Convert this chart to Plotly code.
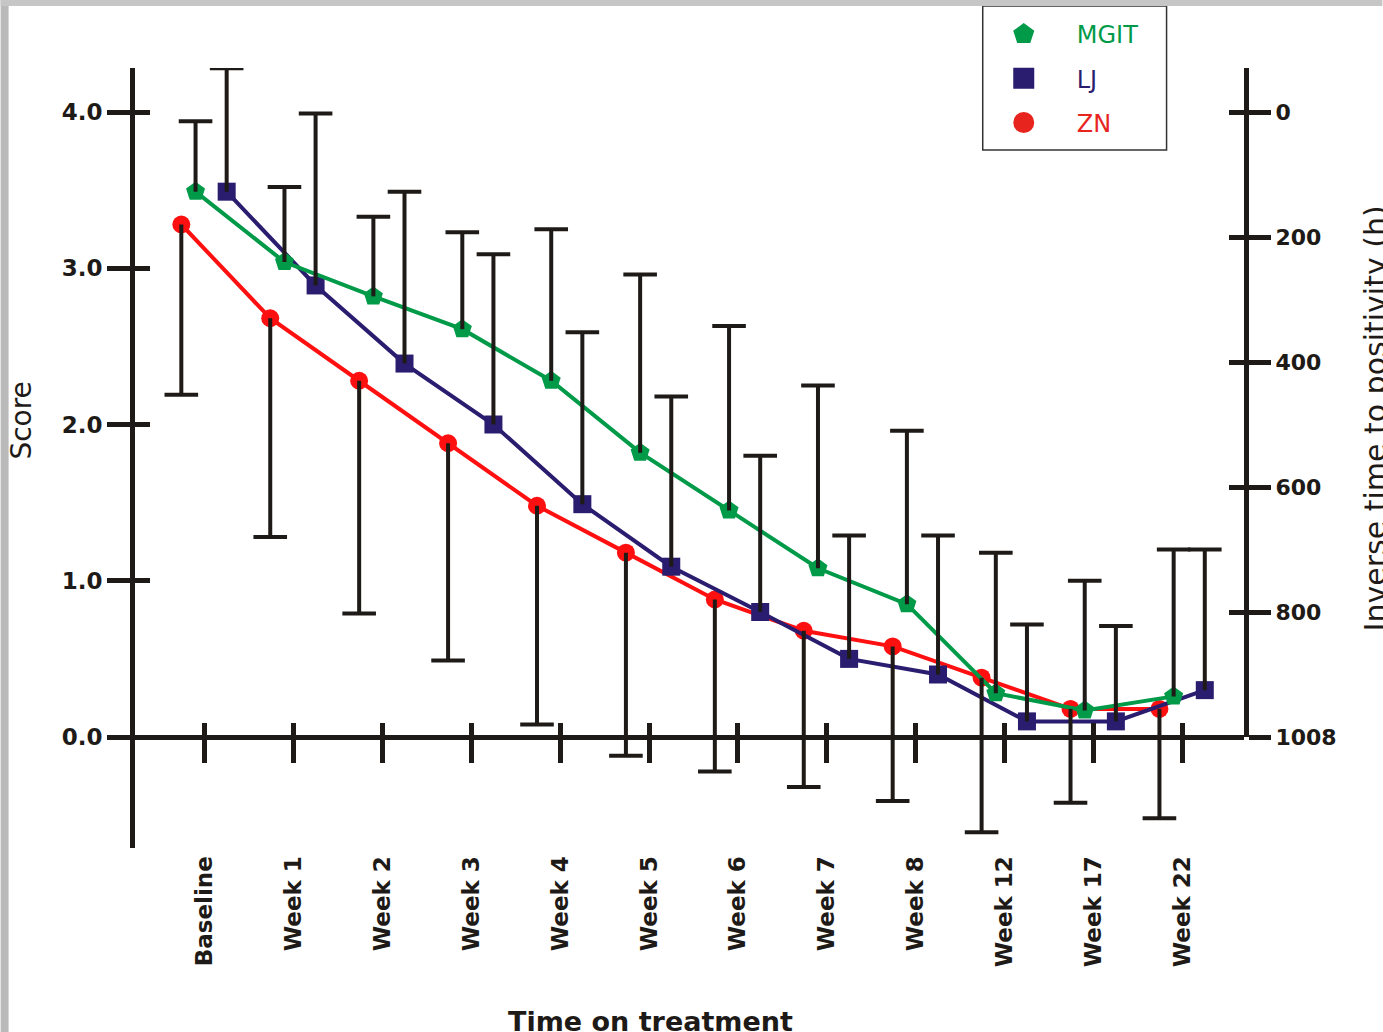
import plotly.graph_objects as go

# ---------------- data ----------------
categories = ["Baseline", "Week 1", "Week 2", "Week 3", "Week 4", "Week 5",
              "Week 6", "Week 7", "Week 8", "Week 12", "Week 17", "Week 22"]

mgit_score = [3.49, 3.04, 2.82, 2.61, 2.28, 1.82, 1.45, 1.08, 0.85, 0.28, 0.17, 0.26]
mgit_err = [0.45, 0.48, 0.51, 0.62, 0.97, 1.14, 1.18, 1.17, 1.11, 0.90, 0.83, 0.94]

lj_score = [3.49, 2.89, 2.39, 2.00, 1.49, 1.09, 0.80, 0.50, 0.40, 0.10, 0.10, 0.30]
lj_err = [0.79, 1.10, 1.10, 1.09, 1.10, 1.09, 1.00, 0.79, 0.89, 0.62, 0.61, 0.90]

zn_score = [3.28, 2.68, 2.28, 1.88, 1.48, 1.18, 0.88, 0.68, 0.58, 0.38, 0.18, 0.18]
zn_err = [1.09, 1.40, 1.49, 1.39, 1.40, 1.30, 1.10, 1.00, 0.99, 0.99, 0.60, 0.70]

score_ticks = [0, 1, 2, 3, 4]
score_ticktext = ["0.0", "1.0", "2.0", "3.0", "4.0"]
ttp_ticks = [0, 200, 400, 600, 800, 1000]
ttp_ticktext = ["0", "200", "400", "600", "800", "1008"]

# ---------------- styling ----------------
W, H = 1383, 1032
L, R, T, B = 134.5, 138.5, 68, 184
PW, PH = W - L - R, H - T - B


def px(x):
    return (x - L) / PW


def py(y):
    return (H - B - y) / PH


AX = "#1e1a17"
GREEN = "#009a48"
NAVY = "#2a1c6e"
RED = "#ff1010"
FONT = "DejaVu Sans"

TICK0_PX, TICK_STEP_PX = 204.0, 89.0
Y_MIN, Y_MAX = -0.7104, 4.2816
X_MIN = (L - TICK0_PX) / TICK_STEP_PX
X_MAX = (W - R - TICK0_PX) / TICK_STEP_PX
ZERO_FRAC = (0 - Y_MIN) / (Y_MAX - Y_MIN)
TTP_RANGE = [1000, -70.4]

OFF_ZN, OFF_MGIT, OFF_LJ = -0.26, -0.10, 0.25

idx = list(range(len(categories)))

fig = go.Figure()

# empty traces so the auxiliary axes are drawn
for xa, ya in [("x2", "y"), ("x", "y2"), ("x", "y3"), ("x", "y4")]:
    fig.add_trace(go.Scatter(x=[None], y=[None], mode="markers", xaxis=xa, yaxis=ya,
                             showlegend=False, hoverinfo="skip"))


def series(vals, off, color, symbol, size, name):
    fig.add_trace(go.Scatter(
        x=[i + off for i in idx], y=vals, mode="lines+markers",
        line=dict(color=color, width=4),
        marker=dict(symbol=symbol, size=size, color=color),
        showlegend=False, name=name, hoverinfo="skip"))


def errbars(vals, errs, off, upward):
    xs, ys, cx, cy = [], [], [], []
    for i, v, e in zip(idx, vals, errs):
        end = v + e if upward else v - e
        xs += [i + off, i + off, None]
        ys += [v, end, None]
        cx.append(i + off)
        cy.append(end)
    fig.add_trace(go.Scatter(x=xs, y=ys, mode="lines",
                             line=dict(color=AX, width=4),
                             showlegend=False, hoverinfo="skip"))
    fig.add_trace(go.Scatter(x=cx, y=cy, mode="markers",
                             marker=dict(symbol="line-ew", size=24,
                                         line=dict(color=AX, width=4)),
                             showlegend=False, hoverinfo="skip"))


series(zn_score, OFF_ZN, RED, "circle", 18, "ZN")
series(lj_score, OFF_LJ, NAVY, "square", 18, "LJ")
series(mgit_score, OFF_MGIT, GREEN, "pentagon", 20, "MGIT")

errbars(zn_score, zn_err, OFF_ZN, False)
errbars(lj_score, lj_err, OFF_LJ, True)
errbars(mgit_score, mgit_err, OFF_MGIT, True)

# legend entries
for nm, col, sym in [("MGIT", GREEN, "pentagon"), ("LJ", NAVY, "square"), ("ZN", "#e8241e", "circle")]:
    fig.add_trace(go.Scatter(
        x=[None], y=[None], mode="markers",
        marker=dict(symbol=sym, size=16, color=col, line=dict(color=col, width=5)),
        name=f"<span style='color:{col}'>{nm}</span>", legendgroup=nm,
        showlegend=True))

tickfont = dict(family=FONT, size=23, color=AX, weight="bold")

fig.update_layout(
    width=W, height=H,
    margin=dict(l=L, r=R, t=T, b=B),
    paper_bgcolor="white", plot_bgcolor="rgba(0,0,0,0)",
    xaxis=dict(range=[X_MIN, X_MAX], anchor="free", position=ZERO_FRAC,
               showline=True, linewidth=5, linecolor=AX,
               ticks="outside", ticklen=23, tickwidth=5, tickcolor=AX,
               tickmode="array", tickvals=idx, ticktext=categories,
               tickangle=-90, ticklabelstandoff=84, tickfont=tickfont,
               showgrid=False, zeroline=False),
    xaxis2=dict(range=[X_MIN, X_MAX], overlaying="x", anchor="free", position=ZERO_FRAC,
                ticks="inside", ticklen=14, tickwidth=5, tickcolor=AX,
                tickmode="array", tickvals=idx, showticklabels=False,
                showline=False, showgrid=False, zeroline=False),
    yaxis=dict(range=[Y_MIN, Y_MAX], showline=True, linewidth=5, linecolor=AX,
               ticks="outside", ticklen=23, tickwidth=5, tickcolor=AX,
               tickmode="array", tickvals=score_ticks, ticktext=score_ticktext,
               tickfont=tickfont, showgrid=False, zeroline=False),
    yaxis3=dict(range=[Y_MIN, Y_MAX], overlaying="y", side="left", anchor="x",
                ticks="inside", ticklen=15, tickwidth=5, tickcolor=AX,
                tickmode="array", tickvals=score_ticks, showticklabels=False,
                showline=False, showgrid=False, zeroline=False),
    yaxis2=dict(domain=[ZERO_FRAC, 1], range=TTP_RANGE, side="right", anchor="x",
                showline=True, linewidth=5, linecolor=AX,
                ticks="outside", ticklen=22, tickwidth=5, tickcolor=AX,
                tickmode="array", tickvals=ttp_ticks, ticktext=ttp_ticktext,
                tickfont=dict(family=FONT, size=22, color=AX, weight="bold"),
                showgrid=False, zeroline=False),
    yaxis4=dict(range=TTP_RANGE, overlaying="y2", side="right", anchor="x",
                ticks="inside", ticklen=15, tickwidth=5, tickcolor=AX,
                tickmode="array", tickvals=ttp_ticks, showticklabels=False,
                showline=False, showgrid=False, zeroline=False),
    legend=dict(x=px(971), y=py(12), xanchor="left", yanchor="top",
                bgcolor="rgba(0,0,0,0)", borderwidth=0, itemwidth=96,
                font=dict(family=FONT, size=24), tracegroupgap=10),
    showlegend=True,
)

fig.add_annotation(text="Score", x=px(21), y=py(421), xref="paper", yref="paper",
                   textangle=-90, showarrow=False, xanchor="center", yanchor="middle",
                   font=dict(family=FONT, size=28, color=AX))
fig.add_annotation(text="Inverse time to positivity (h)", x=px(1377), y=py(418),
                   xref="paper", yref="paper", textangle=-90, showarrow=False,
                   xanchor="center", yanchor="middle",
                   font=dict(family=FONT, size=30, color=AX))
fig.add_annotation(text="Time on treatment", x=px(650), y=py(1021), xref="paper", yref="paper",
                   showarrow=False, xanchor="center", yanchor="middle",
                   font=dict(family=FONT, size=27, color=AX, weight="bold"))

# legend frame and slide border
fig.add_shape(type="rect", xref="paper", yref="paper",
              x0=px(983), x1=px(1167), y0=py(150), y1=py(6),
              line=dict(color="#333333", width=1.5), fillcolor="rgba(0,0,0,0)")
fig.add_shape(type="rect", xref="paper", yref="paper",
              x0=px(0), x1=px(8), y0=py(H), y1=py(0),
              line=dict(width=0), fillcolor="#bababa")
fig.add_shape(type="rect", xref="paper", yref="paper",
              x0=px(0), x1=px(W), y0=py(6), y1=py(0),
              line=dict(width=0), fillcolor="#c6c6c6")

fig.write_html("out.html", config={"displayModeBar": False},
               post_script="document.body.style.margin='0px';")
